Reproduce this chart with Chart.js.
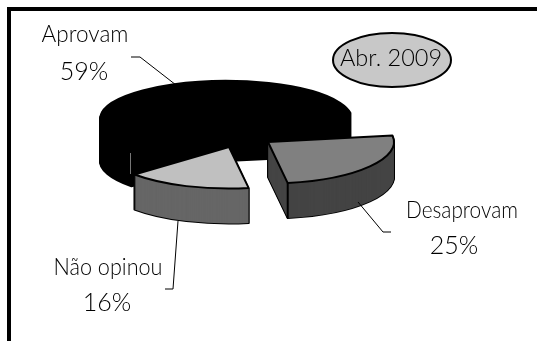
<!DOCTYPE html>
<html>
<head>
<meta charset="utf-8">
<style>
  html, body { margin: 0; padding: 0; background: #fff; }
  #wrap { width: 537px; height: 341px; position: relative; }
</style>
</head>
<body>
<div id="wrap"><canvas id="pie" width="537" height="341"></canvas></div>
<script src="https://cdn.jsdelivr.net/npm/chart.js@4"></script>
<script>
const categories = ["Aprovam", "Desaprovam", "Não opinou"];
const values = [59, 25, 16];
const badgeText = "Abr. 2009";

const topColors = ["#000000", "#808080", "#c0c0c0"];
const sideColors = ["#000000", "#444444", "#666666"];
// how the slices are pulled apart and tilted, per slice
const pulls = [[0, 0], [42, 23], [3, 28]];
const tilts = [0.303, 0.33, 0.33];
const depths = [42, 35, 35];

const nameFont = '300 22.5px Lato';
const percentFont = '300 25px Lato';
const badgeFont = '300 23.5px Lato';
const nameWidths = [88, 112, 109];
const labelSpots = [[85, 42, 84, 80], [462, 218, 454, 254], [108, 275, 107, 311]];
const leaders = [
    [[131, 57], [140, 57], [176, 85]],
    [[358, 202], [383, 232], [391, 232]],
    [[178, 221], [173, 289], [165, 289]]
];

function drawArcAt(ctx, arc, i, drop, color) {
    const saved = arc.options;
    arc.options = Object.assign({}, saved, { backgroundColor: color, borderWidth: 0 });
    ctx.save();
    ctx.translate(arc.x + pulls[i][0], arc.y + pulls[i][1] + drop);
    ctx.scale(1, tilts[i]);
    ctx.translate(-arc.x, -arc.y);
    arc.draw(ctx);
    ctx.restore();
    arc.options = saved;
}

const pie3d = {
    id: "pie3d",
    beforeDatasetsDraw(chart) {
        const ctx = chart.ctx;
        chart.getDatasetMeta(0).data.forEach((arc, i) => {
            // black silhouette of the wall first, then the wall, then the top
            ctx.strokeStyle = "#000";
            ctx.lineWidth = 2;
            ctx.lineJoin = "round";
            for (let d = depths[i]; d > 0; d--) {
                drawArcAt(ctx, arc, i, d, "#000");
                ctx.stroke();
            }
            for (let d = depths[i]; d > 0; d--) {
                drawArcAt(ctx, arc, i, d, sideColors[i]);
            }
            drawArcAt(ctx, arc, i, 0, topColors[i]);
            ctx.stroke();
            // crease at the front corner of the slice
            if (i === 1) {
                const cx = arc.x + pulls[i][0] + Math.cos(arc.endAngle) * arc.outerRadius;
                const cy = arc.y + pulls[i][1] + Math.sin(arc.endAngle) * arc.outerRadius * tilts[i];
                ctx.beginPath();
                ctx.moveTo(cx, cy);
                ctx.lineTo(cx, cy + depths[i]);
                ctx.stroke();
            }
        });
        return false;
    },
    afterDraw(chart) {
        const ctx = chart.ctx;
        ctx.save();
        // outer frame
        ctx.fillStyle = "#000";
        ctx.fillRect(7, 7, 530, 4);
        ctx.fillRect(7, 7, 4, 334);

        // thin seam showing on the black slice
        ctx.strokeStyle = "#777";
        ctx.lineWidth = 1;
        ctx.beginPath();
        ctx.moveTo(130.5, 153);
        ctx.lineTo(130.5, 174);
        ctx.stroke();

        // leader lines
        ctx.strokeStyle = "#000";
        leaders.forEach(pts => {
            ctx.beginPath();
            pts.forEach((p, k) => k ? ctx.lineTo(p[0], p[1]) : ctx.moveTo(p[0], p[1]));
            ctx.stroke();
        });

        // slice labels
        ctx.fillStyle = "#000";
        ctx.textAlign = "center";
        categories.forEach((name, i) => {
            const s = labelSpots[i];
            ctx.font = nameFont;
            ctx.fillText(name, s[0], s[1], nameWidths[i]);
            ctx.font = percentFont;
            ctx.fillText(values[i] + "%", s[2], s[3]);
        });

        // date badge
        ctx.beginPath();
        ctx.ellipse(392, 60, 59, 27, 0, 0, Math.PI * 2);
        ctx.fillStyle = "#c8c8c8";
        ctx.fill();
        ctx.lineWidth = 2;
        ctx.stroke();
        ctx.fillStyle = "#000";
        ctx.font = badgeFont;
        ctx.fillText(badgeText, 391, 66);
        ctx.restore();
    }
};

new Chart(document.getElementById("pie"), {
    type: "pie",
    data: {
        labels: categories,
        datasets: [{
            data: values,
            backgroundColor: topColors,
            borderWidth: 0
        }]
    },
    options: {
        responsive: false,
        animation: false,
        rotation: 228.6,
        radius: 126,
        layout: { padding: { right: 85, bottom: 103 } },
        plugins: { legend: { display: false }, tooltip: { enabled: false } }
    },
    plugins: [pie3d]
});
</script>
</body>
</html>
